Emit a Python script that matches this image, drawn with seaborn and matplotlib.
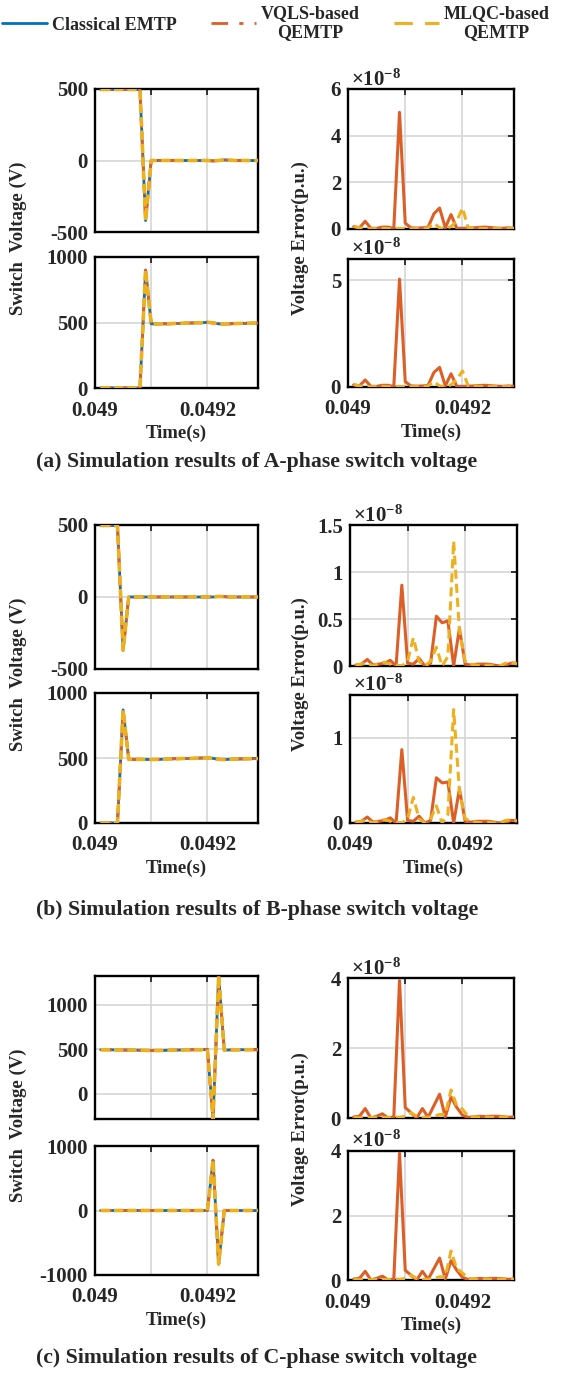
import matplotlib
matplotlib.use("Agg")
import matplotlib.pyplot as plt
from matplotlib.lines import Line2D
import numpy as np
import seaborn as sns

sns.set_style("white")
plt.rcParams["font.family"] = ["Liberation Serif", "DejaVu Serif"]
plt.rcParams["font.weight"] = "bold"
plt.rcParams["axes.labelweight"] = "bold"
plt.rcParams["mathtext.fontset"] = "custom"
plt.rcParams["mathtext.rm"] = "Liberation Serif"
plt.rcParams["mathtext.it"] = "Liberation Serif:italic"
plt.rcParams["mathtext.bf"] = "Liberation Serif:bold"

W, H = 574, 1376
BLUE = "#0072BD"
ORANGE = "#DD5F28"
YELLOW = "#EDB120"

# time axis: 0.04901 ... 0.04929 s, 10 us step
time_s = [0.04901, 0.04902, 0.04903, 0.04904, 0.04905, 0.04906, 0.04907, 0.04908,
          0.04909, 0.04910, 0.04911, 0.04912, 0.04913, 0.04914, 0.04915, 0.04916,
          0.04917, 0.04918, 0.04919, 0.04920, 0.04921, 0.04922, 0.04923, 0.04924,
          0.04925, 0.04926, 0.04927, 0.04928, 0.04929]

# switch voltages (V)
va_top = [497, 497, 497, 497, 497, 497, 497, 495, -420, 0, 0, 0, 0, 0, 0, 0, 0, 0, 0, 0,
          -3, 0, 4, 2, 0, 0, 0, 0, 0]
va_bot = [0, 0, 0, 0, 0, 0, 0, 0, 900, 490, 488, 490, 490, 492, 493, 495, 496, 497, 498,
          502, 497, 490, 487, 490, 492, 493, 494, 495, 495]
vb_top = [497, 497, 497, 495, -370, 0, 0, 0, 0, 0, 0, 0, 0, 0, 0, 0, 0, 0, 0, 0, 0, 4, 2,
          0, 0, 0, 0, 0, 0]
vb_bot = [0, 0, 0, 0, 870, 490, 490, 490, 489, 488, 489, 490, 492, 494, 495, 496, 497, 498,
          500, 501, 497, 490, 488, 490, 492, 493, 494, 495, 495]
vc_top = [495, 495, 494, 493, 492, 491, 490, 489, 488, 486, 486, 487, 489, 490, 492, 493,
          494, 495, 495, 500, -280, 1320, 490, 493, 494, 495, 495, 495, 495]
vc_bot = [0, 0, 0, 0, 0, 0, 0, 0, 0, 0, 0, 0, 0, 0, 0, 0, 0, 0, 0, 0, 780, -830, 0, 0, 0,
          0, 0, 0, 0]

# voltage errors (x1e-8 p.u.)
ea_vqls_top = [0.10, 0.05, 0.33, 0.03, 0.03, 0.08, 0.08, 0.02, 5.00, 0.25, 0.05, 0.04, 0.05,
               0.08, 0.65, 0.90, 0.05, 0.62, 0.03, 0.03, 0.04, 0.05, 0.07, 0.08, 0.06, 0.04,
               0.03, 0.05, 0.03]
ea_mlqc_top = [0.12, 0.05, 0.02, 0.01, 0.02, 0.03, 0.02, 0.01, 0.03, 0.02, 0.01, 0.02, 0.03,
               0.05, 0.25, 0.05, 0.02, 0.10, 0.35, 0.90, 0.05, 0.04, 0.03, 0.02, 0.03, 0.02,
               0.01, 0.02, 0.03]
ea_vqls_bot = [0.10, 0.05, 0.33, 0.03, 0.03, 0.08, 0.08, 0.02, 5.06, 0.25, 0.05, 0.04, 0.05,
               0.08, 0.68, 0.92, 0.05, 0.62, 0.03, 0.03, 0.04, 0.05, 0.07, 0.08, 0.06, 0.04,
               0.03, 0.05, 0.03]
ea_mlqc_bot = [0.12, 0.05, 0.02, 0.01, 0.02, 0.03, 0.02, 0.01, 0.03, 0.02, 0.01, 0.02, 0.03,
               0.05, 0.25, 0.05, 0.02, 0.10, 0.35, 0.75, 0.05, 0.04, 0.03, 0.02, 0.03, 0.02,
               0.01, 0.02, 0.03]
eb_vqls_top = [0.01, 0.02, 0.07, 0.01, 0.02, 0.03, 0.06, 0.00, 0.86, 0.03, 0.02, 0.08, 0.00,
               0.03, 0.53, 0.46, 0.48, 0.00, 0.40, 0.02, 0.01, 0.02, 0.02, 0.02, 0.01, 0.00,
               0.01, 0.03, 0.03]
eb_mlqc_top = [0.01, 0.02, 0.03, 0.00, 0.03, 0.04, 0.02, 0.01, 0.00, 0.05, 0.30, 0.05, 0.00,
               0.05, 0.20, 0.00, 0.10, 1.33, 0.38, 0.05, 0.02, 0.01, 0.00, 0.01, 0.00, 0.00,
               0.03, 0.04, 0.02]
eb_vqls_bot = [0.01, 0.02, 0.07, 0.01, 0.02, 0.03, 0.06, 0.00, 0.86, 0.03, 0.02, 0.08, 0.00,
               0.03, 0.53, 0.47, 0.48, 0.00, 0.40, 0.02, 0.01, 0.02, 0.02, 0.02, 0.01, 0.00,
               0.01, 0.03, 0.03]
eb_mlqc_bot = [0.01, 0.02, 0.03, 0.00, 0.03, 0.04, 0.02, 0.01, 0.00, 0.05, 0.30, 0.05, 0.00,
               0.05, 0.20, 0.00, 0.10, 1.33, 0.38, 0.05, 0.02, 0.01, 0.00, 0.01, 0.00, 0.00,
               0.03, 0.04, 0.02]
ec_vqls_top = [0.03, 0.05, 0.27, 0.00, 0.05, 0.12, 0.00, 0.03, 3.93, 0.30, 0.15, 0.00, 0.27,
               0.02, 0.35, 0.68, 0.03, 0.60, 0.30, 0.08, 0.02, 0.03, 0.05, 0.04, 0.05, 0.05,
               0.04, 0.02, 0.03]
ec_mlqc_top = [0.02, 0.01, 0.02, 0.01, 0.02, 0.01, 0.02, 0.03, 0.02, 0.05, 0.15, 0.05, 0.02,
               0.02, 0.05, 0.10, 0.10, 0.80, 0.35, 0.25, 0.05, 0.03, 0.02, 0.03, 0.02, 0.02,
               0.03, 0.02, 0.02]
ec_vqls_bot = [0.03, 0.05, 0.27, 0.00, 0.05, 0.12, 0.00, 0.03, 3.93, 0.30, 0.15, 0.00, 0.27,
               0.02, 0.35, 0.68, 0.03, 0.60, 0.30, 0.08, 0.02, 0.03, 0.05, 0.04, 0.05, 0.05,
               0.04, 0.02, 0.03]
ec_mlqc_bot = [0.02, 0.01, 0.02, 0.01, 0.02, 0.01, 0.02, 0.03, 0.02, 0.05, 0.15, 0.05, 0.02,
               0.02, 0.05, 0.10, 0.10, 0.90, 0.35, 0.22, 0.05, 0.03, 0.02, 0.03, 0.02, 0.02,
               0.03, 0.02, 0.02]

x_ticks = [0.049, 0.0491, 0.0492]
x_ticklabels = ["0.049", "", "0.0492"]

panels = [
    dict(v=(va_top, va_bot),
         e=((ea_vqls_top, ea_mlqc_top), (ea_vqls_bot, ea_mlqc_bot)),
         vlim=((-500, 500), (0, 1000)), vticks=([-500, 0, 500], [0, 500, 1000]),
         elim=((0, 6), (0, 6)), eticks=([0, 2, 4, 6], [0, 5]),
         eticklabels=(["0", "2", "4", "6"], ["0", "5"]),
         left=((95, 258, 89, 232), (95, 258, 257, 388)),
         right=((348, 514, 89, 229), (348, 514, 259, 387)),
         cap_y=462, caption="(a) Simulation results of A-phase switch voltage"),
    dict(v=(vb_top, vb_bot),
         e=((eb_vqls_top, eb_mlqc_top), (eb_vqls_bot, eb_mlqc_bot)),
         vlim=((-500, 500), (0, 1000)), vticks=([-500, 0, 500], [0, 500, 1000]),
         elim=((0, 1.5), (0, 1.5)), eticks=([0, 0.5, 1, 1.5], [0, 1]),
         eticklabels=(["0", "0.5", "1", "1.5"], ["0", "1"]),
         left=((95, 258, 525, 669), (95, 258, 693, 823)),
         right=((350, 517, 525, 666), (350, 517, 695, 823)),
         cap_y=910, caption="(b) Simulation results of B-phase switch voltage"),
    dict(v=(vc_top, vc_bot),
         e=((ec_vqls_top, ec_mlqc_top), (ec_vqls_bot, ec_mlqc_bot)),
         vlim=((-280, 1320), (-1000, 1000)), vticks=([0, 500, 1000], [-1000, 0, 1000]),
         elim=((0, 4), (0, 4)), eticks=([0, 2, 4], [0, 2, 4]),
         eticklabels=(["0", "2", "4"], ["0", "2", "4"]),
         left=((95, 258, 976, 1119), (95, 258, 1146, 1275)),
         right=((348, 514, 978, 1118), (348, 514, 1151, 1280)),
         cap_y=1358, caption="(c) Simulation results of C-phase switch voltage"),
]

TICK_FS = 15
LABEL_FS = 13.5


def frac(box):
    x0, x1, y0, y1 = box
    return [x0 / W, 1 - y1 / H, (x1 - x0) / W, (y1 - y0) / H]


def style_axes(ax, bottom_row):
    ax.set_xlim(0.049, 0.04929)
    ax.set_xticks(x_ticks)
    if bottom_row:
        ax.set_xticklabels(x_ticklabels)
        ax.set_xlabel("Time(s)", fontsize=LABEL_FS, labelpad=3)
    else:
        ax.set_xticklabels([])
    ax.grid(True, color="#d6d6d6", lw=1.2)
    ax.tick_params(direction="in", length=4, width=1.3, top=True, right=True,
                   labelsize=TICK_FS, pad=5)
    ax.tick_params(axis="x", pad=9)
    for sp in ax.spines.values():
        sp.set_linewidth(1.7)
        sp.set_color("black")
    for lab in ax.get_xticklabels() + ax.get_yticklabels():
        lab.set_fontweight("bold")
    ax.set_ylabel("")


fig = plt.figure(figsize=(W / 100, H / 100), dpi=100)

for p in panels:
    for row in range(2):
        bottom_row = row == 1
        # switch voltage: three overlapping traces
        ax = fig.add_axes(frac(p["left"][row]))
        v = p["v"][row]
        sns.lineplot(x=time_s, y=v, ax=ax, color=BLUE, lw=2.0, legend=False, zorder=3)
        sns.lineplot(x=time_s, y=v, ax=ax, color=ORANGE, lw=2.0, legend=False,
                     linestyle=(0, (4, 1.5, 1, 1.5)), zorder=4)
        sns.lineplot(x=time_s, y=v, ax=ax, color=YELLOW, lw=2.6, legend=False,
                     linestyle=(0, (2.6, 1.1)), zorder=5)
        ax.set_ylim(*p["vlim"][row])
        ax.set_yticks(p["vticks"][row])
        ax.set_yticklabels([str(t) for t in p["vticks"][row]])
        style_axes(ax, bottom_row)

        # voltage error
        ax = fig.add_axes(frac(p["right"][row]))
        ev, em = p["e"][row]
        sns.lineplot(x=time_s, y=ev, ax=ax, color=ORANGE, lw=2.2, legend=False, zorder=3)
        sns.lineplot(x=time_s, y=em, ax=ax, color=YELLOW, lw=2.2, legend=False,
                     linestyle=(0, (3, 1.6)), zorder=4)
        ax.set_ylim(*p["elim"][row])
        ax.set_yticks(p["eticks"][row])
        ax.set_yticklabels(p["eticklabels"][row])
        style_axes(ax, bottom_row)
        ax.text(0.02, 0.99, r"$\times10^{-8}$", transform=ax.transAxes, ha="left",
                va="bottom", fontsize=15)

    # y labels and caption
    ly0 = (p["left"][0][2] + p["left"][1][3]) / 2
    fig.text(18 / W, 1 - ly0 / H, "Switch  Voltage (V)", rotation=90, ha="center",
             va="center", fontsize=LABEL_FS, fontweight="bold")
    ry0 = (p["right"][0][2] + p["right"][1][3]) / 2
    fig.text(300 / W, 1 - ry0 / H, "Voltage Error(p.u.)", rotation=90, ha="center",
             va="center", fontsize=LABEL_FS, fontweight="bold")
    fig.text(257 / W, 1 - p["cap_y"] / H, p["caption"], ha="center", va="center",
             fontsize=15.7, fontweight="bold")

handles = [
    Line2D([], [], color=BLUE, lw=2.0),
    Line2D([], [], color=ORANGE, lw=2.0, linestyle=(0, (6, 4, 1.5, 4))),
    Line2D([], [], color=YELLOW, lw=2.2, linestyle=(0, (6, 4))),
]
leg = fig.legend(handles, ["Classical EMTP", "VQLS-based\nQEMTP", "MLQC-based\nQEMTP"],
                 loc="center left", bbox_to_anchor=(2 / W, 1 - 23 / H), ncol=3, frameon=False,
                 handlelength=2.5, handletextpad=0.25, columnspacing=1.9,
                 prop=dict(family="Liberation Serif", weight="bold", size=13),
                 borderaxespad=0, borderpad=0.0, labelspacing=0.2)
for t in leg.get_texts():
    t.set_multialignment("center")

fig.savefig("out.png", dpi=100)
